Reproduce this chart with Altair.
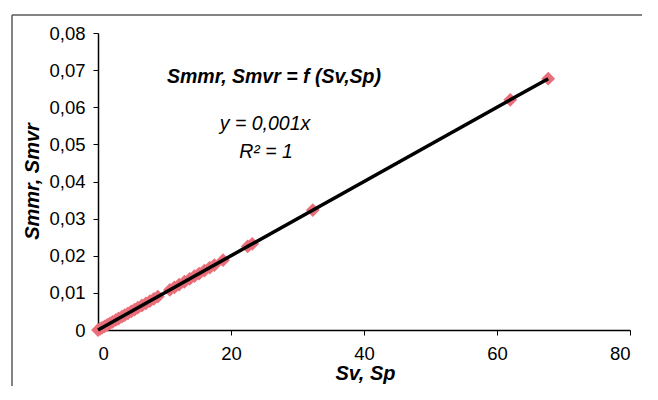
import altair as alt
import pandas as pd

# Data
sv = [0, 0.3, 0.6, 1.0, 1.4, 1.8, 2.2, 2.7, 3.1, 3.6, 4.0, 4.5, 5.0, 5.5, 6.0,
      6.6, 7.2, 7.8, 8.4, 9.0, 10.8, 11.5, 12.2, 13.0, 13.8, 14.5, 15.2, 16.0,
      16.8, 17.5, 18.8, 22.5, 23.2, 32.3, 62.0, 67.7]
smmr = [0.0, 0.0003, 0.0006, 0.0010, 0.0014, 0.0018, 0.0022, 0.0027, 0.0031,
        0.0036, 0.0040, 0.0045, 0.0050, 0.0055, 0.0060, 0.0066, 0.0072, 0.0078,
        0.0084, 0.0090, 0.0108, 0.0115, 0.0122, 0.0130, 0.0138, 0.0145, 0.0152,
        0.0160, 0.0168, 0.0175, 0.0188, 0.0225, 0.0232, 0.0323, 0.0620, 0.0677]
x_ticks = [0, 20, 40, 60, 80]
y_ticks = [0, 0.01, 0.02, 0.03, 0.04, 0.05, 0.06, 0.07, 0.08]

df = pd.DataFrame({"x": sv, "y": smmr})

FONT = "Liberation Sans"

xaxis = alt.Axis(values=x_ticks, title="Sv, Sp", titleX=267, titleY=49,
                 titleBaseline="alphabetic", labelPadding=9)
yaxis = alt.Axis(values=y_ticks, title="Smmr, Smvr", titleX=-66, titleY=148,
                 titleAngle=-90, titleBaseline="middle", labelPadding=8,
                 labelExpr="datum.value == 0 ? '0' : replace(format(datum.value, '.2f'), '.', ',')")
xscale = alt.Scale(domain=[0, 80], nice=False, zero=True)
yscale = alt.Scale(domain=[0, 0.08], nice=False)

xenc = alt.X("x:Q", scale=xscale, axis=xaxis)
yenc = alt.Y("y:Q", scale=yscale, axis=yaxis)

base = alt.Chart(df)
one = base.transform_filter("datum.x == 0")

frame_left = one.mark_rule(color="#5a5a5a", strokeWidth=1.5).encode(
    x=alt.value(-86), y=alt.value(-18), y2=alt.value(450))
frame_top = one.mark_rule(color="#5a5a5a", strokeWidth=1.5).encode(
    x=alt.value(-86), x2=alt.value(700), y=alt.value(-18))

points = base.mark_point(shape="diamond", filled=True, size=190, color="#ea6e79",
                         opacity=1).encode(x=xenc, y=yenc)

trend = base.transform_regression("x", "y", method="linear").mark_line(
    color="black", strokeWidth=3.5).encode(x=xenc, y=yenc)

title_txt = one.mark_text(text="Smmr, Smvr = f (Sv,Sp)", font=FONT, fontSize=19.5,
                          fontStyle="italic", fontWeight="bold", align="center",
                          baseline="alphabetic").encode(
    x=alt.value(176), y=alt.value(50))
eq_txt = one.mark_text(text="y = 0,001x", font=FONT, fontSize=19.5, fontStyle="italic",
                       align="center", baseline="alphabetic").encode(
    x=alt.value(167), y=alt.value(97))
r2_txt = one.mark_text(text="R² = 1", font=FONT, fontSize=19.5, fontStyle="italic",
                       align="center", baseline="alphabetic").encode(
    x=alt.value(168), y=alt.value(125))

chart = alt.layer(frame_left, frame_top, points, trend, title_txt, eq_txt, r2_txt).properties(
    width=532, height=297,
    autosize=alt.AutoSizeParams(type="none"),
    padding={"left": 90, "top": 25, "right": 12, "bottom": 56},
).configure_view(stroke=None).configure_axis(
    grid=False, domainColor="black", domainWidth=1.5, tickColor="black",
    tickSize=5, tickWidth=1, labelFont=FONT, labelFontSize=18.5, labelColor="black",
    titleFont=FONT, titleFontSize=20, titleFontStyle="italic", titleFontWeight="bold",
    titleColor="black"
)

chart.save("out.html", embed_options={"renderer": "svg", "actions": False})
